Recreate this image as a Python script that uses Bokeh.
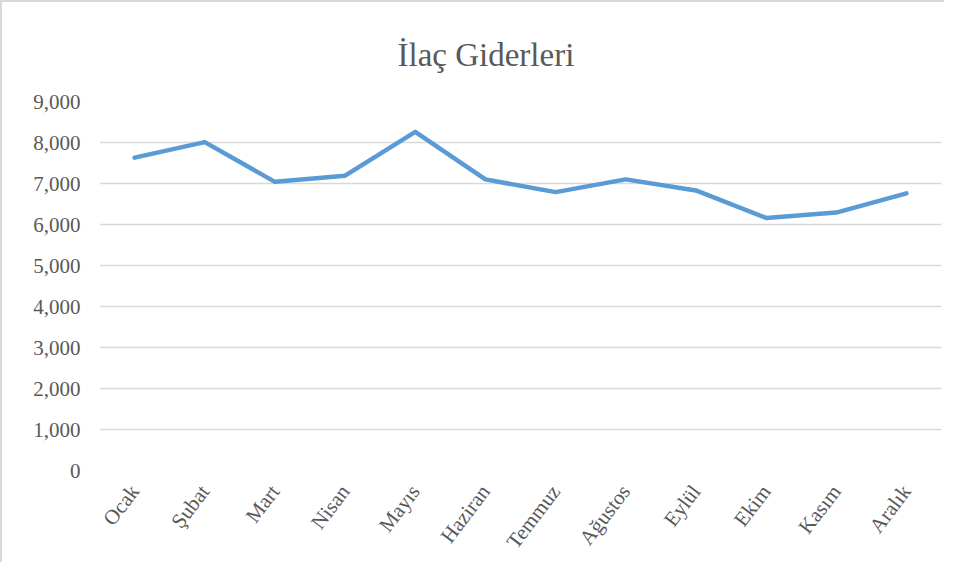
from bokeh.plotting import figure
from bokeh.models import Range1d, NumeralTickFormatter, FixedTicker
from bokeh.embed import file_html
from bokeh.resources import INLINE

months = ["Ocak", "Şubat", "Mart", "Nisan", "Mayıs", "Haziran",
          "Temmuz", "Ağustos", "Eylül", "Ekim", "Kasım", "Aralık"]
values = [7630, 8010, 7040, 7190, 8260, 7100, 6790, 7100, 6830, 6160, 6290, 6760]
y_ticks = [0, 1000, 2000, 3000, 4000, 5000, 6000, 7000, 8000, 9000]
title_text = "İlaç Giderleri"

SERIF = "Liberation Serif"
GREY = "#595959"

p = figure(x_range=months, y_range=Range1d(0, 9000), width=944, height=562,
           output_backend="svg", toolbar_location=None, title=title_text,
           min_border_left=97, min_border_right=5, min_border_top=99,
           min_border_bottom=94)

p.line(x=months, y=values, line_color="#5B9BD5", line_width=4.5,
       line_join="round", line_cap="round")

p.title.align = "left"
p.title.offset = 298
p.title.text_font = SERIF
p.title.text_font_size = "33px"
p.title.text_font_style = "normal"
p.title.text_color = GREY
p.title.standoff = 58

p.outline_line_color = None
p.xgrid.grid_line_color = None
p.ygrid.grid_line_color = "#d9d9d9"
p.ygrid.grid_line_width = 1.3
p.yaxis.ticker = FixedTicker(ticks=y_ticks)
p.yaxis.formatter = NumeralTickFormatter(format="0,0")

for ax in (p.xaxis[0], p.yaxis[0]):
    ax.axis_line_color = None
    ax.major_tick_line_color = None
    ax.minor_tick_line_color = None
    ax.major_tick_out = 0
    ax.major_tick_in = 0
    ax.major_label_text_font = SERIF
    ax.major_label_text_color = GREY

p.yaxis.major_label_text_font_size = "21px"
p.yaxis.major_label_standoff = 19
p.xaxis.major_label_text_font_size = "21px"
p.xaxis.major_label_orientation = 0.92
p.xaxis.major_label_standoff = 17

p.styles = {"border-left": "2px solid #d9d9d9", "border-top": "2px solid #d9d9d9"}

open("out.html", "w").write(file_html(p, INLINE))
